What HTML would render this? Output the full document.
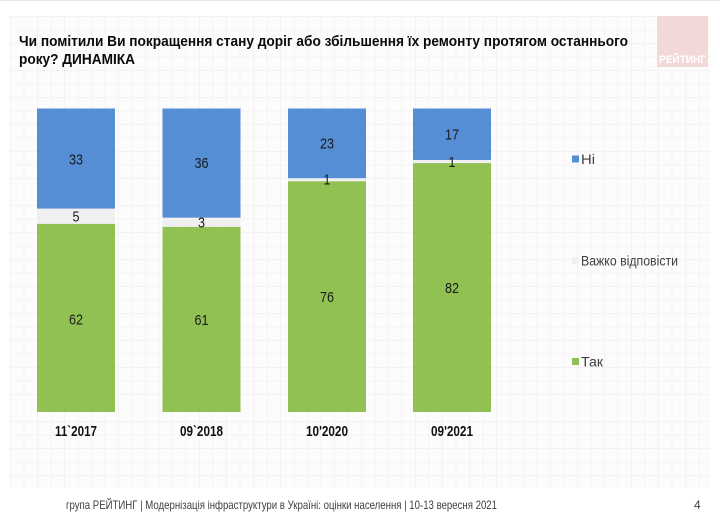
<!DOCTYPE html>
<html>
<head>
<meta charset="utf-8">
<style>
html,body{margin:0;padding:0;background:#fff;}
svg{display:block;}
text{font-family:"Liberation Sans","Noto Sans CJK SC",sans-serif;}
</style>
</head>
<body>
<svg width="720" height="515" viewBox="0 0 720 515" xmlns="http://www.w3.org/2000/svg">
<defs>
<pattern id="grid" x="10" y="16" width="13.5" height="13.5" patternUnits="userSpaceOnUse">
<rect width="13.5" height="13.5" fill="#fcfcfc"/>
<path d="M0 0.5H13.5M0.5 0V13.5" stroke="#f3f3f3" stroke-width="1"/>
</pattern>
</defs>
<rect x="0" y="0" width="720" height="515" fill="#ffffff"/>
<line x1="0" y1="0.5" x2="720" y2="0.5" stroke="#e8e8e8"/>
<rect x="10" y="16" width="700" height="472" fill="url(#grid)"/>

<!-- logo -->
<rect x="657" y="16" width="51" height="51" fill="#f3d8d8"/>
<text x="659" y="63" font-size="11" font-weight="bold" fill="#ffffff" textLength="47" lengthAdjust="spacingAndGlyphs">РЕЙТИНГ</text>

<!-- title -->
<text x="19" y="46" font-size="15" font-weight="bold" fill="#0a0a0a" textLength="609" lengthAdjust="spacingAndGlyphs">Чи помітили Ви покращення стану доріг або збільшення їх ремонту протягом останнього</text>
<text x="19" y="64" font-size="15" font-weight="bold" fill="#0a0a0a" textLength="116" lengthAdjust="spacingAndGlyphs">року? ДИНАМІКА</text>

<!-- bars -->
<g>
<rect x="37" y="108.5" width="78" height="100.2" fill="#558ed5"/>
<rect x="37" y="208.7" width="78" height="15.2" fill="#f0f0f0"/>
<rect x="37" y="223.9" width="78" height="188.1" fill="#92c153"/>
<rect x="162.5" y="108.5" width="78" height="109.3" fill="#558ed5"/>
<rect x="162.5" y="217.8" width="78" height="9.1" fill="#f0f0f0"/>
<rect x="162.5" y="226.9" width="78" height="185.1" fill="#92c153"/>
<rect x="288" y="108.5" width="78" height="69.8" fill="#558ed5"/>
<rect x="288" y="178.3" width="78" height="3" fill="#f0f0f0"/>
<rect x="288" y="181.3" width="78" height="230.7" fill="#92c153"/>
<rect x="413" y="108.5" width="78" height="51.6" fill="#558ed5"/>
<rect x="413" y="160.1" width="78" height="3" fill="#f0f0f0"/>
<rect x="413" y="163.1" width="78" height="248.9" fill="#92c153"/>
</g>

<!-- value labels -->
<g font-size="15" fill="#1a1a1a" text-anchor="middle">
<text x="76" y="164.5" textLength="14" lengthAdjust="spacingAndGlyphs">33</text>
<text x="76" y="221.5" textLength="7" lengthAdjust="spacingAndGlyphs">5</text>
<text x="76" y="324.5" textLength="14" lengthAdjust="spacingAndGlyphs">62</text>

<text x="201.5" y="168" textLength="14" lengthAdjust="spacingAndGlyphs">36</text>
<text x="201.5" y="227.5" textLength="7" lengthAdjust="spacingAndGlyphs">3</text>
<text x="201.5" y="325" textLength="14" lengthAdjust="spacingAndGlyphs">61</text>

<text x="327" y="148.5" textLength="14" lengthAdjust="spacingAndGlyphs">23</text>
<text x="327" y="184.5" textLength="7" lengthAdjust="spacingAndGlyphs">1</text>
<text x="327" y="302" textLength="14" lengthAdjust="spacingAndGlyphs">76</text>

<text x="452" y="139.5" textLength="14" lengthAdjust="spacingAndGlyphs">17</text>
<text x="452" y="167" textLength="7" lengthAdjust="spacingAndGlyphs">1</text>
<text x="452" y="293" textLength="14" lengthAdjust="spacingAndGlyphs">82</text>
</g>

<!-- x labels -->
<g font-size="15" font-weight="bold" fill="#111" text-anchor="middle">
<text x="76" y="436" textLength="42" lengthAdjust="spacingAndGlyphs">11`2017</text>
<text x="201.5" y="436" textLength="43" lengthAdjust="spacingAndGlyphs">09`2018</text>
<text x="327" y="436" textLength="42" lengthAdjust="spacingAndGlyphs">10'2020</text>
<text x="452" y="436" textLength="42" lengthAdjust="spacingAndGlyphs">09'2021</text>
</g>

<!-- legend -->
<rect x="572" y="155.5" width="7" height="7" fill="#558ed5"/>
<text x="581" y="164" font-size="13.5" fill="#404040" textLength="14" lengthAdjust="spacingAndGlyphs">Ні</text>
<rect x="572" y="257" width="7" height="7" fill="#f0f0f0"/>
<text x="581" y="265.5" font-size="13.5" fill="#404040" textLength="97" lengthAdjust="spacingAndGlyphs">Важко відповісти</text>
<rect x="572" y="358" width="7" height="7" fill="#92c153"/>
<text x="581" y="366.5" font-size="13.5" fill="#404040" textLength="22" lengthAdjust="spacingAndGlyphs">Так</text>

<!-- footer -->
<text x="66" y="509" font-size="12" fill="#404040" textLength="431" lengthAdjust="spacingAndGlyphs">група РЕЙТИНГ | Модернізація інфраструктури в Україні: оцінки населення | 10-13 вересня 2021</text>
<text x="694" y="509" font-size="12" fill="#404040">4</text>
</svg>
</body>
</html>
